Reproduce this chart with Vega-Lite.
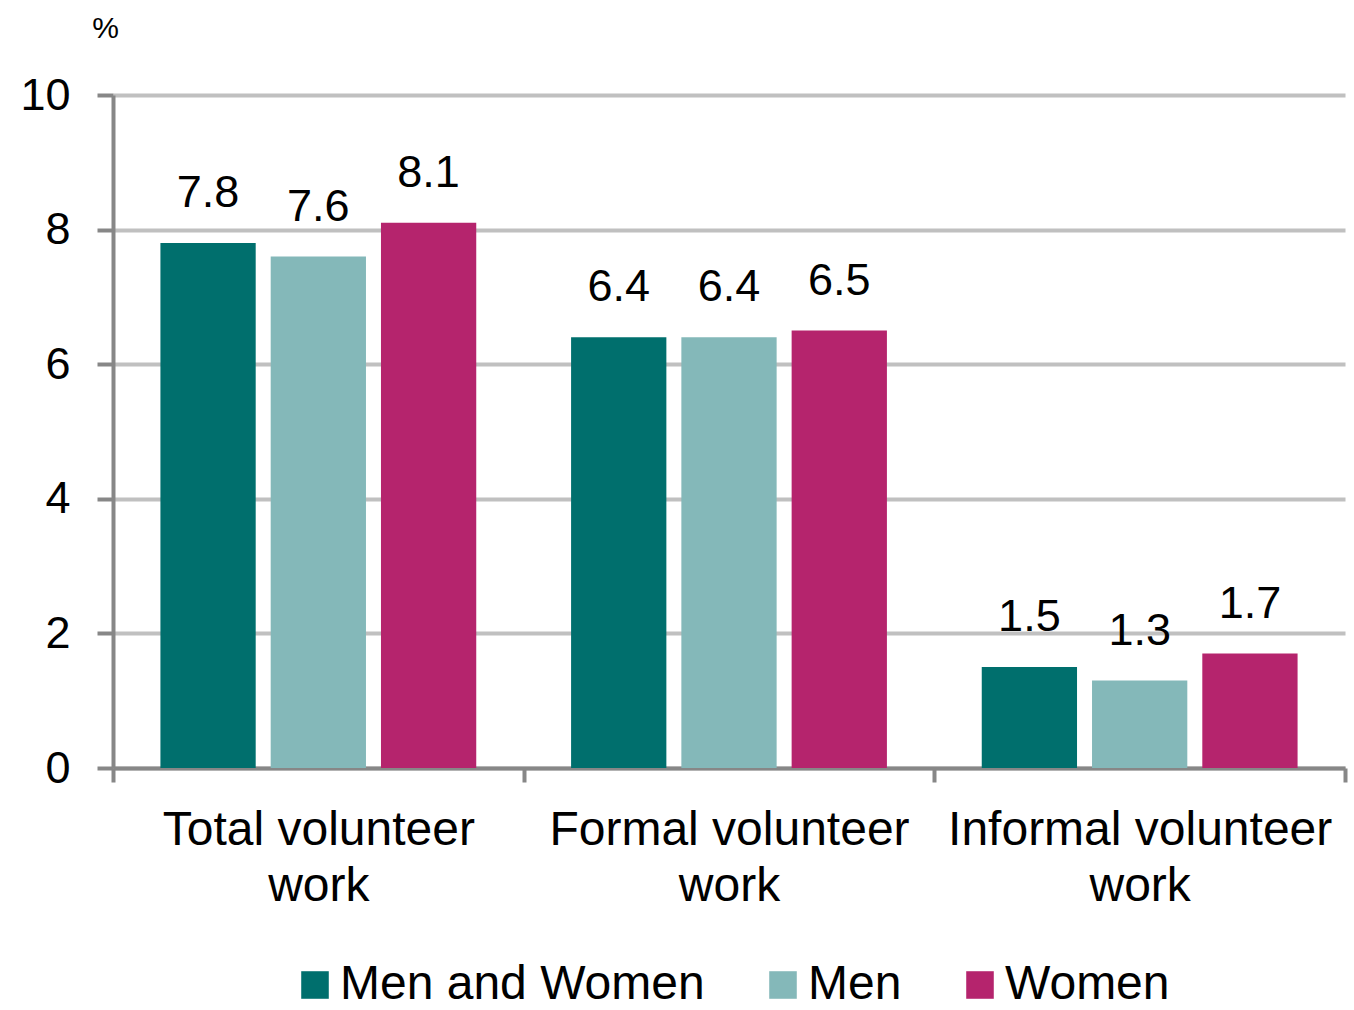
{
  "$schema": "https://vega.github.io/schema/vega-lite/v6.json",
  "autosize": {"type": "none"},
  "width": 1232,
  "height": 673,
  "padding": {"left": 113, "top": 95, "right": 9, "bottom": 242},
  "background": "white",
  "config": {
    "view": {"stroke": null},
    "font": "Liberation Sans"
  },
  "data": {
    "values": [
      {"category": "Total volunteer work", "series": "Men and Women", "value": 7.8},
      {"category": "Total volunteer work", "series": "Men", "value": 7.6},
      {"category": "Total volunteer work", "series": "Women", "value": 8.1},
      {"category": "Formal volunteer work", "series": "Men and Women", "value": 6.4},
      {"category": "Formal volunteer work", "series": "Men", "value": 6.4},
      {"category": "Formal volunteer work", "series": "Women", "value": 6.5},
      {"category": "Informal volunteer work", "series": "Men and Women", "value": 1.5},
      {"category": "Informal volunteer work", "series": "Men", "value": 1.3},
      {"category": "Informal volunteer work", "series": "Women", "value": 1.7}
    ]
  },
  "encoding": {
    "x": {
      "field": "category",
      "type": "nominal",
      "sort": ["Total volunteer work", "Formal volunteer work", "Informal volunteer work"],
      "scale": {"paddingInner": 0, "paddingOuter": 0},
      "axis": {
        "title": null,
        "labelAngle": 0,
        "labelFontSize": 48,
        "labelColor": "#000000",
        "labelLineHeight": 56,
        "labelPadding": 24,
        "labelLimit": 0,
        "labelOverlap": false,
        "labelExpr": "datum.label ? [slice(datum.label, 0, -5), 'work'] : ''",
        "tickBand": "extent",
        "tickSize": 14,
        "tickWidth": 4,
        "tickColor": "#878787",
        "domainColor": "#878787",
        "domainWidth": 4,
        "grid": false
      }
    },
    "xOffset": {
      "field": "series",
      "type": "nominal",
      "sort": ["Men and Women", "Men", "Women"],
      "scale": {"paddingInner": 0.136, "paddingOuter": 0.43}
    },
    "y": {
      "field": "value",
      "type": "quantitative",
      "scale": {"domain": [0, 10], "nice": false},
      "axis": {
        "values": [0, 2, 4, 6, 8, 10],
        "title": "%",
        "titleAngle": 0,
        "titleFontSize": 30,
        "titleFontWeight": "normal",
        "titleColor": "#000000",
        "titleAlign": "center",
        "titleBaseline": "middle",
        "titleX": -8,
        "titleY": -67,
        "labelFontSize": 45,
        "labelColor": "#000000",
        "labelPadding": 27,
        "tickSize": 16,
        "tickWidth": 4,
        "tickColor": "#878787",
        "domainColor": "#878787",
        "domainWidth": 4,
        "grid": true,
        "gridColor": "#c0c0c0",
        "gridWidth": 4
      }
    }
  },
  "layer": [
    {
      "mark": {"type": "bar"},
      "encoding": {
        "color": {
          "field": "series",
          "type": "nominal",
          "sort": ["Men and Women", "Men", "Women"],
          "scale": {
            "domain": ["Men and Women", "Men", "Women"],
            "range": ["#006f6d", "#84b8b9", "#b5246d"]
          },
          "legend": {
            "title": null,
            "orient": "none",
            "direction": "horizontal",
            "legendX": 178,
            "legendY": 866,
            "symbolType": "square",
            "symbolSize": 760,
            "symbolStrokeWidth": 0,
            "symbolOpacity": 1,
            "labelFontSize": 48,
            "labelColor": "#000000",
            "labelOffset": 1,
            "columnPadding": 54,
            "labelLimit": 0
          }
        }
      }
    },
    {
      "mark": {"type": "text", "baseline": "alphabetic", "dy": -36, "fontSize": 45, "color": "#000000"},
      "encoding": {
        "text": {"field": "value", "type": "quantitative", "format": ".1f"}
      }
    }
  ]
}
